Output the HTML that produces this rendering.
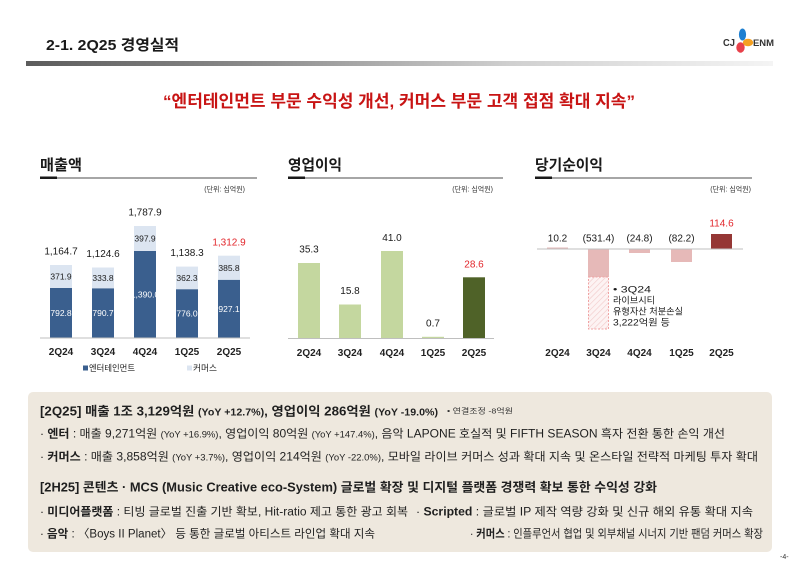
<!DOCTYPE html>
<html><head><meta charset="utf-8">
<style>
html,body{margin:0;padding:0;background:#fff;}
svg{display:block;}
text{font-family:"Liberation Sans","Noto Sans CJK KR",sans-serif;}
</style></head>
<body>
<svg width="800" height="564" viewBox="0 0 800 564" xmlns="http://www.w3.org/2000/svg">
<defs>
<linearGradient id="hg" x1="0" y1="0" x2="1" y2="0">
<stop offset="0" stop-color="#5c5c5c"/>
<stop offset="0.3" stop-color="#8a8a8a"/>
<stop offset="0.65" stop-color="#d0d0d0"/>
<stop offset="1" stop-color="#f4f4f4"/>
</linearGradient>
<pattern id="hatch" width="4" height="4" patternUnits="userSpaceOnUse" patternTransform="rotate(45)">
<rect width="4" height="4" fill="#fdf3f3"/>
<line x1="0" y1="0" x2="0" y2="4" stroke="#f2c9c9" stroke-width="1.2"/>
</pattern>
</defs>

<!-- Header -->
<text x="46" y="50" font-size="15" font-weight="bold" fill="#1a1a1a" textLength="133" lengthAdjust="spacingAndGlyphs">2-1. 2Q25 경영실적</text>
<rect x="26" y="61" width="747" height="5" fill="url(#hg)"/>
<!-- logo -->
<text x="723" y="46" font-size="10" font-weight="bold" fill="#333" textLength="12" lengthAdjust="spacingAndGlyphs">CJ</text>
<ellipse cx="742.5" cy="34.5" rx="3.6" ry="6" fill="#1e7fd0"/>
<ellipse cx="748" cy="42.5" rx="5.2" ry="3.8" fill="#f5a020"/>
<ellipse cx="740.5" cy="47.5" rx="4.2" ry="5.2" fill="#e8404a"/>
<text x="753" y="46" font-size="9.5" font-weight="bold" fill="#333" textLength="21" lengthAdjust="spacingAndGlyphs">ENM</text>

<!-- Headline -->
<text x="163" y="107" font-size="17" font-weight="bold" fill="#c81414" textLength="472" lengthAdjust="spacingAndGlyphs">“엔터테인먼트 부문 수익성 개선, 커머스 부문 고객 접점 확대 지속”</text>

<!-- Chart titles -->
<text x="40" y="170" font-size="15" font-weight="bold" fill="#1a1a1a" textLength="42" lengthAdjust="spacingAndGlyphs">매출액</text>
<rect x="40" y="176.5" width="17" height="2.5" fill="#1a1a1a"/>
<rect x="57" y="177" width="200" height="2" fill="#a6a6a6"/>
<text x="245" y="191.5" font-size="7" fill="#333" text-anchor="end">(단위: 십억원)</text>

<text x="288" y="170" font-size="15" font-weight="bold" fill="#1a1a1a" textLength="54" lengthAdjust="spacingAndGlyphs">영업이익</text>
<rect x="288" y="176.5" width="17" height="2.5" fill="#1a1a1a"/>
<rect x="305" y="177" width="198" height="2" fill="#a6a6a6"/>
<text x="493" y="191.5" font-size="7" fill="#333" text-anchor="end">(단위: 십억원)</text>

<text x="535" y="170" font-size="15" font-weight="bold" fill="#1a1a1a" textLength="68" lengthAdjust="spacingAndGlyphs">당기순이익</text>
<rect x="535" y="176.5" width="17" height="2.5" fill="#1a1a1a"/>
<rect x="552" y="177" width="200" height="2" fill="#a6a6a6"/>
<text x="751" y="191.5" font-size="7" fill="#333" text-anchor="end">(단위: 십억원)</text>

<!-- Revenue chart -->
<g>
<rect x="50" y="265" width="22" height="23" fill="#dce5f1"/>
<rect x="50" y="288" width="22" height="50" fill="#3a5f8e"/>
<rect x="92" y="267.5" width="22" height="20.9" fill="#dce5f1"/>
<rect x="92" y="288.4" width="22" height="49.6" fill="#3a5f8e"/>
<rect x="134" y="226" width="22" height="25" fill="#dce5f1"/>
<rect x="134" y="251" width="22" height="87" fill="#3a5f8e"/>
<rect x="176" y="266.6" width="22" height="22.7" fill="#dce5f1"/>
<rect x="176" y="289.3" width="22" height="48.7" fill="#3a5f8e"/>
<rect x="218" y="255.7" width="22" height="24.2" fill="#dce5f1"/>
<rect x="218" y="279.9" width="22" height="58.1" fill="#3a5f8e"/>
<rect x="40" y="337.5" width="210" height="1" fill="#bfbfbf"/>
<g font-size="10" fill="#1a1a1a" text-anchor="middle">
<text x="61" y="254.6">1,164.7</text>
<text x="103" y="257.1">1,124.6</text>
<text x="145" y="215.6">1,787.9</text>
<text x="187" y="256.2">1,138.3</text>
<text x="229" y="245.3" fill="#e2262b">1,312.9</text>
</g>
<g font-size="8.5" text-anchor="middle" fill="#1a1a1a">
<text x="61" y="279.5">371.9</text>
<text x="103" y="281">333.8</text>
<text x="145" y="241.5">397.9</text>
<text x="187" y="281">362.3</text>
<text x="229" y="270.8">385.8</text>
</g>
<g font-size="8.5" text-anchor="middle" fill="#ffffff">
<text x="61" y="316">792.8</text>
<text x="103" y="316">790.7</text>
<text x="145" y="297.5">1,390.0</text>
<text x="187" y="316.5">776.0</text>
<text x="229" y="312">927.1</text>
</g>
<g font-size="10" font-weight="bold" fill="#222" text-anchor="middle">
<text x="61" y="355">2Q24</text>
<text x="103" y="355">3Q24</text>
<text x="145" y="355">4Q24</text>
<text x="187" y="355">1Q25</text>
<text x="229" y="355">2Q25</text>
</g>
<rect x="83" y="365.5" width="5" height="5" fill="#3a5f8e"/>
<text x="89" y="371" font-size="8.5" fill="#222" textLength="46" lengthAdjust="spacingAndGlyphs">엔터테인먼트</text>
<rect x="187" y="365.5" width="5" height="5" fill="#dce5f1"/>
<text x="193" y="371" font-size="8.5" fill="#222" textLength="24" lengthAdjust="spacingAndGlyphs">커머스</text>
</g>

<!-- Operating profit chart -->
<g>
<rect x="298" y="263" width="22" height="75.5" fill="#c4d79f"/>
<rect x="339" y="304.5" width="22" height="34" fill="#c4d79f"/>
<rect x="381" y="251" width="22" height="87.5" fill="#c4d79f"/>
<rect x="422" y="336.8" width="22" height="1.7" fill="#c4d79f"/>
<rect x="463" y="277.3" width="22" height="61.2" fill="#4f6228"/>
<rect x="288" y="338" width="206" height="1" fill="#bfbfbf"/>
<g font-size="10" fill="#1a1a1a" text-anchor="middle">
<text x="309" y="252.5">35.3</text>
<text x="350" y="294">15.8</text>
<text x="392" y="241">41.0</text>
<text x="433" y="326.5">0.7</text>
<text x="474" y="267.5" fill="#e2262b">28.6</text>
</g>
<g font-size="10" font-weight="bold" fill="#222" text-anchor="middle">
<text x="309" y="356">2Q24</text>
<text x="350" y="356">3Q24</text>
<text x="392" y="356">4Q24</text>
<text x="433" y="356">1Q25</text>
<text x="474" y="356">2Q25</text>
</g>
</g>

<!-- Net income chart -->
<g>
<rect x="547" y="247.5" width="21" height="1.8" fill="#e6b9b8"/>
<rect x="588" y="249" width="21" height="28" fill="#e6b9b8"/>
<rect x="588.5" y="277" width="20" height="52" fill="url(#hatch)" stroke="#f0a3a3" stroke-width="1" stroke-dasharray="2,1.5"/>
<rect x="629" y="249" width="21" height="4" fill="#e6b9b8"/>
<rect x="671" y="249" width="21" height="13" fill="#e6b9b8"/>
<rect x="711" y="234" width="21" height="15" fill="#953735"/>
<rect x="537" y="248.5" width="206" height="1" fill="#bfbfbf"/>
<g font-size="10" fill="#1a1a1a" text-anchor="middle">
<text x="557.5" y="241.5">10.2</text>
<text x="598.5" y="241.5">(531.4)</text>
<text x="639.5" y="241.5">(24.8)</text>
<text x="681.5" y="241.5">(82.2)</text>
<text x="721.5" y="226.5" fill="#e2262b">114.6</text>
</g>
<g font-size="9" fill="#1a1a1a">
<text x="613" y="292.5" textLength="38" lengthAdjust="spacingAndGlyphs">• 3Q24</text>
<text x="613" y="303.5" textLength="42" lengthAdjust="spacingAndGlyphs">라이브시티</text>
<text x="613" y="314.5" textLength="70" lengthAdjust="spacingAndGlyphs">유형자산 처분손실</text>
<text x="613" y="325.5" textLength="57" lengthAdjust="spacingAndGlyphs">3,222억원 등</text>
</g>
<g font-size="10" font-weight="bold" fill="#222" text-anchor="middle">
<text x="557.5" y="356">2Q24</text>
<text x="598.5" y="356">3Q24</text>
<text x="639.5" y="356">4Q24</text>
<text x="681.5" y="356">1Q25</text>
<text x="721.5" y="356">2Q25</text>
</g>
</g>

<!-- Summary box -->
<rect x="28" y="392" width="744" height="160" rx="5" fill="#eee8de"/>
<g fill="#1f1f1f">
<text x="40" y="415.5" font-size="12.5" font-weight="bold" textLength="398" lengthAdjust="spacingAndGlyphs">[2Q25]  매출 1조 3,129억원 <tspan font-size="10">(YoY +12.7%)</tspan>, 영업이익 286억원 <tspan font-size="10">(YoY -19.0%)</tspan></text>
<text x="447" y="413.5" font-size="7.5" fill="#333" textLength="66" lengthAdjust="spacingAndGlyphs">• 연결조정 -8억원</text>

<text x="40" y="437.5" font-size="11.5" textLength="685" lengthAdjust="spacingAndGlyphs">·  <tspan font-weight="bold">엔터</tspan> : 매출 9,271억원 <tspan font-size="9">(YoY +16.9%)</tspan>, 영업이익 80억원 <tspan font-size="9">(YoY +147.4%)</tspan>, 음악 LAPONE 호실적 및 FIFTH SEASON 흑자 전환 통한 손익 개선</text>

<text x="40" y="460.5" font-size="11.5" textLength="718" lengthAdjust="spacingAndGlyphs">·  <tspan font-weight="bold">커머스</tspan> : 매출 3,858억원 <tspan font-size="9">(YoY +3.7%)</tspan>, 영업이익 214억원 <tspan font-size="9">(YoY -22.0%)</tspan>, 모바일 라이브 커머스 성과 확대 지속 및 온스타일 전략적 마케팅 투자 확대</text>

<text x="40" y="491.5" font-size="12.5" font-weight="bold" textLength="617" lengthAdjust="spacingAndGlyphs">[2H25]  콘텐츠 · MCS (Music Creative eco-System) 글로벌 확장 및 디지털 플랫폼 경쟁력 확보 통한 수익성 강화</text>

<text x="40" y="515.5" font-size="11.5" textLength="368" lengthAdjust="spacingAndGlyphs">·  <tspan font-weight="bold">미디어플랫폼</tspan> : 티빙 글로벌 진출 기반 확보, Hit-ratio 제고 통한 광고 회복</text>
<text x="416" y="515.5" font-size="11.5" textLength="337" lengthAdjust="spacingAndGlyphs">·  <tspan font-weight="bold">Scripted</tspan> : 글로벌 IP 제작 역량 강화 및 신규 해외 유통 확대 지속</text>

<text x="40" y="537.5" font-size="11.5" textLength="335" lengthAdjust="spacingAndGlyphs">·  <tspan font-weight="bold">음악</tspan> : 〈Boys II Planet〉 등 통한 글로벌 아티스트 라인업 확대 지속</text>
<text x="470" y="537.5" font-size="11.5" textLength="293" lengthAdjust="spacingAndGlyphs">·  <tspan font-weight="bold">커머스</tspan> : 인플루언서 협업 및 외부채널 시너지 기반 팬덤 커머스 확장</text>
</g>

<text x="780" y="559" font-size="7" fill="#333">-4-</text>
</svg>
</body></html>
